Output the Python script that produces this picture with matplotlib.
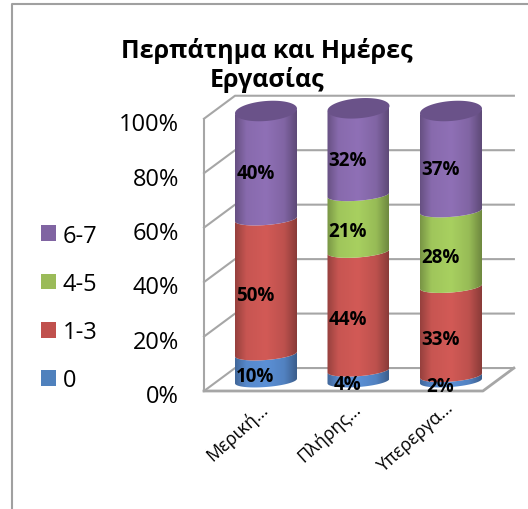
import matplotlib
import matplotlib.pyplot as plt
import numpy as np
from matplotlib.patches import Patch, PathPatch
from matplotlib.path import Path

matplotlib.use("Agg")

plt.rcParams["font.family"] = ["Open Sans", "Noto Sans", "DejaVu Sans"]

W, H = 528, 510

# data
categories = ["Μερική…", "Πλήρης…", "Υπερεργα…"]
series_names = ["0", "1-3", "4-5", "6-7"]
series_values = {
    "0": [10, 4, 2],
    "1-3": [50, 44, 33],
    "4-5": [0, 21, 28],
    "6-7": [40, 32, 37],
}
ticks = [0, 20, 40, 60, 80, 100]

colors = {"0": "#4f81bd", "1-3": "#c0504d", "4-5": "#9bbb59", "6-7": "#8064a2"}
bright = {"0": "#5b90d6", "1-3": "#d25a56", "4-5": "#a8d060", "6-7": "#8f70b6"}

# pixel scale of the fake 3d: one category = 92.5 px, one percent = 2.7 px
PX_X = 92.5
PX_Y = 2.7
X0_PX = 266
Y0_PX = 382

fig = plt.figure(figsize=(W / 100, H / 100), dpi=100, facecolor="white")
ax = fig.add_axes([0, 0, 1, 1])
ax.axis("off")

# wall and floor
GRID = "#a6a6a6"
FRONT_X, BACK_X, RIGHT_X = -0.67, -0.335, 2.68
FRONT_DY, BACK_DY = -3.7, 4.8
wall_scale = 1.0085
for t in ticks:
    yf = FRONT_DY + t * wall_scale
    yb = BACK_DY + t * wall_scale
    ax.plot([FRONT_X, BACK_X, RIGHT_X], [yf, yb, yb], color=GRID, lw=1.5, zorder=1)
ax.plot([FRONT_X, FRONT_X], [FRONT_DY, FRONT_DY + 100 * wall_scale], color=GRID, lw=1.5, zorder=1)
ax.plot([FRONT_X, 2.345, RIGHT_X], [FRONT_DY, FRONT_DY, BACK_DY], color=GRID, lw=2, zorder=1)

# cylinders
RAD = 31 / PX_X
BEND = 6 / PX_Y
TILT = 2.6
TOP_BEND = 10 / PX_Y
t_arc = np.linspace(np.pi, 2 * np.pi, 40)
t_cap = np.linspace(0, 2 * np.pi, 80)
shade = np.interp(np.linspace(0, 1, 64), [0, 0.18, 0.5, 0.8, 1], [0.72, 0.95, 1.0, 0.9, 0.66])


def front_arc(cx, val):
    xs = cx + RAD * np.cos(t_arc)
    ys = val + BEND * np.sin(t_arc) + TILT * RAD * np.cos(t_arc)
    return xs, ys


for i, cat in enumerate(categories):
    base = 0
    for name in series_names:
        v = series_values[name][i]
        if v == 0:
            continue
        x1, y1 = front_arc(i, base)
        x2, y2 = front_arc(i, base + v)
        verts = np.vstack([np.c_[x1, y1], np.c_[x2[::-1], y2[::-1]], [[x1[0], y1[0]]]])
        clip = PathPatch(Path(verts), facecolor="none", edgecolor="none", transform=ax.transData)
        ax.add_patch(clip)
        rgb = np.array(matplotlib.colors.to_rgb(bright[name]))
        img = (shade[None, :, None] * rgb[None, None, :]).clip(0, 1)
        im = ax.imshow(img, extent=[i - RAD, i + RAD, base - 12, base + v + 12], aspect="auto",
                       interpolation="bilinear", zorder=3)
        im.set_clip_path(clip)
        base += v
    # top cap
    tx = i + RAD * np.cos(t_cap)
    ty = base + TOP_BEND * np.sin(t_cap) + TILT * RAD * np.cos(t_cap)
    ax.fill(tx, ty, color="#6a5289", lw=0, zorder=4)

ax.set_xlim(-X0_PX / PX_X, (W - X0_PX) / PX_X)
ax.set_ylim((Y0_PX - H) / PX_Y, Y0_PX / PX_Y)

# data labels
for i, cat in enumerate(categories):
    base = 0
    for name in series_names:
        v = series_values[name][i]
        if v:
            ax.text(i - 0.115, base + v / 2 - 3.0, f"{v}%", ha="center", va="center",
                    fontsize=13.5, fontweight="bold", color="black", zorder=6)
        base += v

# y tick labels
for t in ticks:
    ax.text(FRONT_X - 0.27, FRONT_DY + t * wall_scale - 2, f"{t}%", ha="right", va="center",
            fontsize=17, color="black")

# category labels
for i, cat in enumerate(categories):
    ax.text(i - 0.07, -6.5, cat, rotation=42, rotation_mode="anchor", ha="right", va="top",
            fontsize=13, color="black")

# title
fig.text(267 / W, 1 - 65.5 / H, "Περπάτημα και Ημέρες\nΕργασίας", ha="center", va="center",
         fontsize=18, fontweight="bold", linespacing=1.17)

# legend
handles = [Patch(facecolor=colors[n], edgecolor="none", label=n) for n in reversed(series_names)]
fig.legend(handles=handles, loc="center left", bbox_to_anchor=(41 / W, 1 - 309 / H), frameon=False,
           fontsize=17, labelspacing=1.03, handlelength=0.64, handleheight=0.64, handletextpad=0.27,
           borderpad=0, borderaxespad=0)

# chart area border
fig.add_artist(plt.Line2D([11.5 / W, 11.5 / W, 1], [0, 1 - 4.5 / H, 1 - 4.5 / H], color="#a0a0a0", lw=1.5))

fig.savefig("out.png", dpi=100)
